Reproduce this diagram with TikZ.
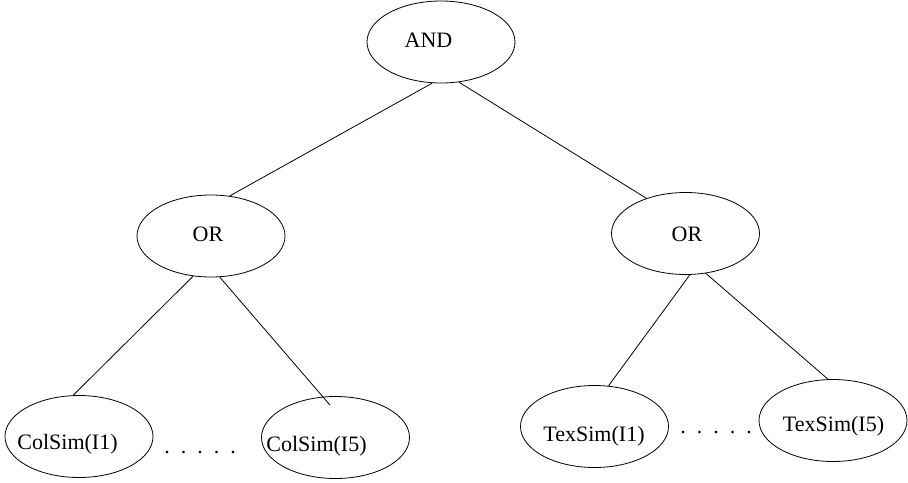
\documentclass[tikz,border=0pt]{standalone}
\usepackage{fontspec}
\setmainfont{Liberation Serif}
\usetikzlibrary{shapes.geometric}

\begin{document}
\begin{tikzpicture}[x=0.5pt, y=-0.5pt,
    oval/.style={draw, ellipse, minimum width=74pt, minimum height=41pt, inner sep=0pt},
    txt/.style={inner sep=0pt, font=\fontsize{11}{13}\selectfont}]
    \useasboundingbox (0,0) rectangle (908,482);

    % Ellipses
    \node[oval] (and) at (441,42) {};
    \node[oval] (orl) at (211,236) {};
    \node[oval] (orr) at (685.5,233.5) {};
    \node[oval] (col1) at (79,436.5) {};
    \node[oval] (col5) at (335.5,437.5) {};
    \node[oval] (tex1) at (594.5,426.5) {};
    \node[oval] (tex5) at (833,420.5) {};

    % Texts
    \node[txt] (and-t) at (428.5,40) {AND};
    \node[txt] (orl-t) at (208,234.5) {OR};
    \node[txt] (orr-t) at (687,234) {OR};
    \node[txt] (col1-t) at (67.5,444.5) {ColSim(I1)};
    \node[txt] (col5-t) at (316.5,446) {ColSim(I5)};
    \node[txt] (tex1-t) at (594,436) {TexSim(I1)};
    \node[txt] (tex5-t) at (833.5,426.5) {TexSim(I5)};

    % Dots
    \node[txt, anchor=base] (col-dots) at (200,453) {.\ \ .\ \ .\ \ .\ \ .};
    \node[txt, anchor=base] (tex-dots) at (716,433) {.\ \ .\ \ .\ \ .\ \ .};

    % Edges
    \coordinate (col5-in) at ([xshift=-2.75pt, yshift=-4.5pt]col5.north);
    \draw (and.258) -- (orl.65);
    \draw (and.294) -- (orr.138);
    \draw (orl.246) -- (col1.98);
    \draw (orl.282) -- (col5-in);
    \draw (orr.276) -- (tex1.71);
    \draw (orr.297) -- (tex5.97);
\end{tikzpicture}
\end{document}
